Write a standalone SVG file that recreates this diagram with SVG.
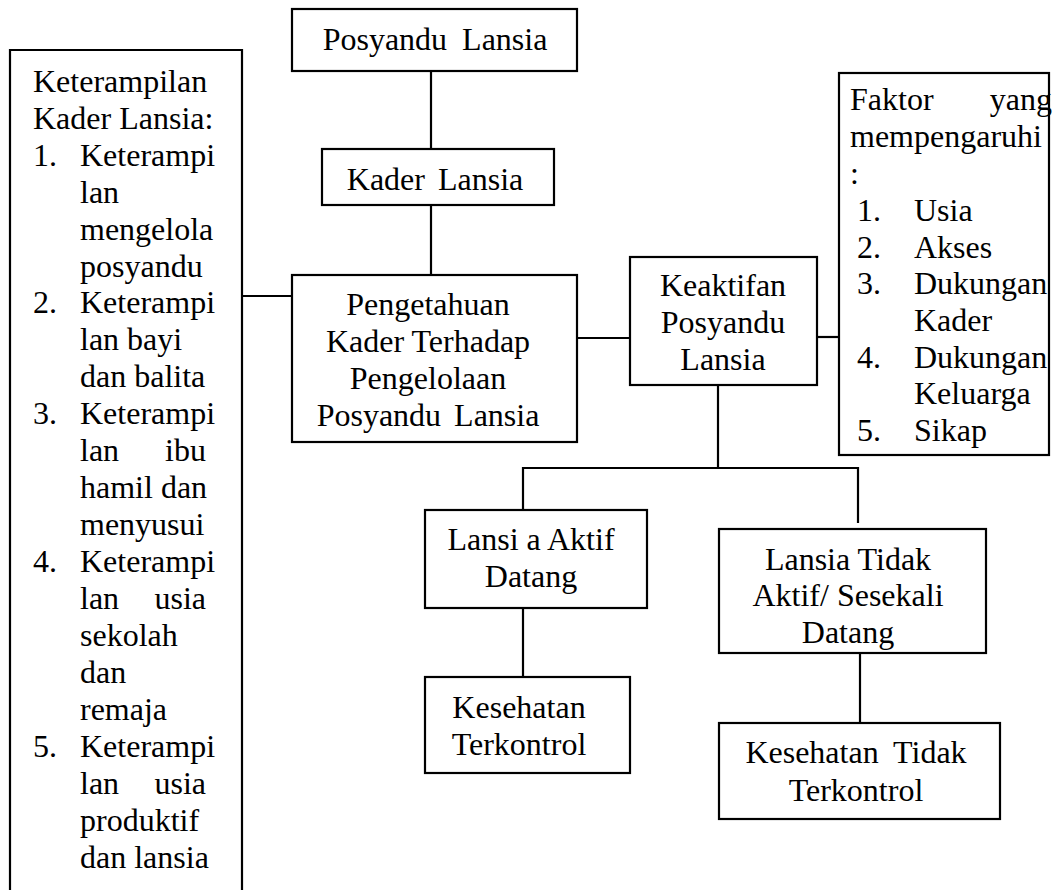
<svg xmlns="http://www.w3.org/2000/svg" width="1057" height="890" viewBox="0 0 1057 890">
<style>
.box{fill:#fff;stroke:#000;stroke-width:2.2}
.wide{stroke-width:3}
.ln{stroke:#000;stroke-width:2.2;fill:none}
text{font-family:"Liberation Serif","Times New Roman",serif;font-size:32px;fill:#000}
.c{text-anchor:middle}
.e{text-anchor:end}
</style>
<rect width="1057" height="890" fill="#fff"/>
<g id="connectors">
<line class="ln" x1="431" y1="71" x2="431" y2="149"/>
<line class="ln" x1="431" y1="205" x2="431" y2="275"/>
<line class="ln" x1="242" y1="296" x2="305" y2="296" stroke-width="3"/>
<line class="ln" x1="577" y1="338" x2="633" y2="338"/>
<line class="ln" x1="817" y1="337" x2="839" y2="337"/>
<line class="ln" x1="718" y1="385" x2="718" y2="468"/>
<line class="ln" x1="523" y1="468" x2="858" y2="468"/>
<line class="ln" x1="523" y1="467" x2="523" y2="510"/>
<line class="ln" x1="858" y1="467" x2="858" y2="523"/>
<line class="ln" x1="523" y1="608" x2="523" y2="677"/>
<line class="ln" x1="860" y1="653" x2="860" y2="723"/>
</g>
<g id="keterampilan">
<path class="ln wide" d="M10,900 V50 H242 V900"/>
<text x="33" y="92">Keterampilan</text>
<text x="33" y="129">Kader Lansia:</text>
<text><tspan x="33" y="166">1. </tspan><tspan x="80" y="166">Keterampi</tspan></text>
<text x="80" y="203">lan</text>
<text x="80" y="240">mengelola</text>
<text x="80" y="277">posyandu</text>
<text><tspan x="33" y="313">2. </tspan><tspan x="80" y="313">Keterampi</tspan></text>
<text x="80" y="350">lan bayi</text>
<text x="80" y="387">dan balita</text>
<text><tspan x="33" y="424">3. </tspan><tspan x="80" y="424">Keterampi</tspan></text>
<text><tspan x="80" y="461">lan </tspan><tspan class="e" x="206" y="461">ibu</tspan></text>
<text x="80" y="498">hamil dan</text>
<text x="80" y="535">menyusui</text>
<text><tspan x="33" y="572">4. </tspan><tspan x="80" y="572">Keterampi</tspan></text>
<text><tspan x="80" y="609">lan </tspan><tspan class="e" x="206" y="609">usia</tspan></text>
<text x="80" y="646">sekolah</text>
<text x="80" y="683">dan</text>
<text x="80" y="720">remaja</text>
<text><tspan x="33" y="757">5. </tspan><tspan x="80" y="757">Keterampi</tspan></text>
<text><tspan x="80" y="794">lan </tspan><tspan class="e" x="206" y="794">usia</tspan></text>
<text x="80" y="831">produktif</text>
<text x="80" y="868">dan lansia</text>
</g>
<g id="posyandu">
<rect class="box" x="292" y="9" width="285" height="62"/>
<text class="c" x="435" y="50" word-spacing="7">Posyandu Lansia</text>
</g>
<g id="kader">
<rect class="box" x="322" y="149" width="232" height="56"/>
<text class="c" x="435" y="190" word-spacing="5">Kader Lansia</text>
</g>
<g id="pengetahuan">
<rect class="box" x="292" y="275" width="285" height="167"/>
<text class="c" x="428" y="315">Pengetahuan</text>
<text class="c" x="428" y="352">Kader Terhadap</text>
<text class="c" x="428" y="389">Pengelolaan</text>
<text class="c" x="428" y="426" word-spacing="5">Posyandu Lansia</text>
</g>
<g id="keaktifan">
<rect class="box" x="630" y="257" width="187" height="128"/>
<text class="c" x="723" y="296">Keaktifan</text>
<text class="c" x="723" y="333">Posyandu</text>
<text class="c" x="723" y="370">Lansia</text>
</g>
<g id="faktor">
<rect class="box" x="839" y="73" width="210" height="382"/>
<text><tspan x="850" y="110">Faktor </tspan><tspan class="e" x="1052" y="110">yang</tspan></text>
<text x="850" y="147">mempengaruhi</text>
<text x="850" y="184">:</text>
<text><tspan x="857" y="221">1. </tspan><tspan x="914" y="221">Usia</tspan></text>
<text><tspan x="857" y="258">2. </tspan><tspan x="914" y="258">Akses</tspan></text>
<text><tspan x="857" y="294">3. </tspan><tspan x="914" y="294">Dukungan</tspan></text>
<text x="914" y="331">Kader</text>
<text><tspan x="857" y="368">4. </tspan><tspan x="914" y="368">Dukungan</tspan></text>
<text x="914" y="404">Keluarga</text>
<text><tspan x="857" y="441">5. </tspan><tspan x="914" y="441">Sikap</tspan></text>
</g>
<g id="lansia-aktif">
<rect class="box" x="425" y="510" width="222" height="98"/>
<text class="c" x="531" y="550">Lansi a Aktif</text>
<text class="c" x="531" y="587">Datang</text>
</g>
<g id="kesehatan-terkontrol">
<rect class="box" x="425" y="677" width="205" height="96"/>
<text class="c" x="519" y="718">Kesehatan</text>
<text class="c" x="519" y="755">Terkontrol</text>
</g>
<g id="lansia-tidak-aktif">
<rect class="box" x="719" y="529" width="267" height="124"/>
<text class="c" x="848" y="570">Lansia Tidak</text>
<text class="c" x="848" y="606">Aktif/ Sesekali</text>
<text class="c" x="848" y="643">Datang</text>
</g>
<g id="kesehatan-tidak">
<rect class="box" x="719" y="723" width="281" height="96"/>
<text class="c" x="856" y="763" word-spacing="7">Kesehatan Tidak</text>
<text class="c" x="856" y="801">Terkontrol</text>
</g>
</svg>
